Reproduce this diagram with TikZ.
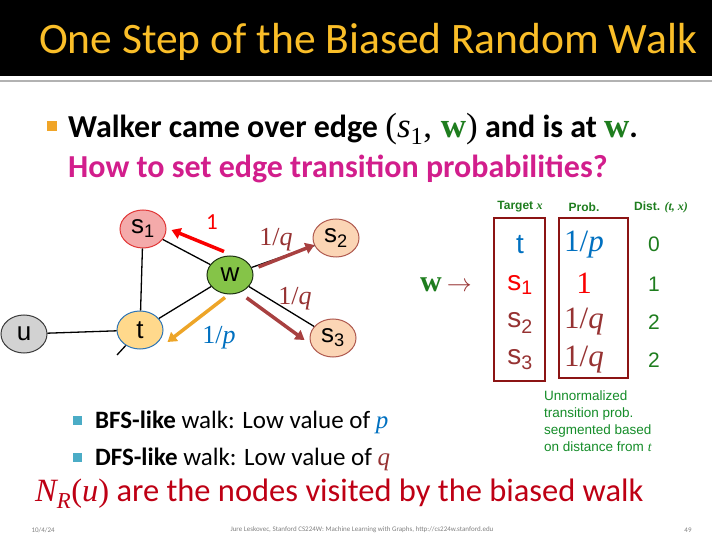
\documentclass[tikz,border=0pt]{standalone}
\usepackage{fontspec}
\setmainfont{Carlito}
\newfontfamily\arialfont{Liberation Sans}
\newfontfamily\mathserif{Liberation Serif}
\newcommand{\mvar}[1]{{\mathserif\itshape #1}}
\newcommand{\mbold}[1]{{\mathserif\bfseries #1}}
\usepackage{xcolor}
\usepackage{tikz}
\usetikzlibrary{positioning}
\usetikzlibrary{shapes.geometric}
\usetikzlibrary{arrows.meta}

\definecolor{titlegold}{RGB}{250,190,40}
\definecolor{sonefill}{RGB}{244,170,170}
\definecolor{soneline}{RGB}{225,55,55}
\definecolor{sfarfill}{RGB}{251,213,181}
\definecolor{sfarline}{RGB}{175,90,80}
\definecolor{wfill}{RGB}{133,196,72}
\definecolor{wline}{RGB}{30,50,20}
\definecolor{tfill}{RGB}{255,217,140}
\definecolor{tline}{RGB}{46,117,182}
\definecolor{ufill}{RGB}{210,210,210}
\definecolor{uline}{RGB}{60,60,60}
\definecolor{walkred}{RGB}{250,0,0}
\definecolor{walkbrown}{RGB}{168,64,64}
\definecolor{walkorange}{RGB}{237,165,40}
\definecolor{pblue}{RGB}{0,112,192}
\definecolor{qbrown}{RGB}{150,50,50}
\definecolor{boxred}{RGB}{140,20,20}
\definecolor{distgreen}{RGB}{30,125,30}
\definecolor{notegreen}{RGB}{20,140,40}
\definecolor{askmagenta}{RGB}{210,30,140}
\definecolor{nrred}{RGB}{190,0,20}
\definecolor{bulorange}{RGB}{240,165,40}
\definecolor{bulteal}{RGB}{75,172,198}

\begin{document}
\begin{tikzpicture}[x=1pt, y=-1pt,
        vertex/.style={ellipse, draw, line width=1pt, minimum width=46pt, minimum height=38pt, inner sep=0pt, font=\arialfont\fontsize{26}{26}\selectfont},
        edge/.style={line width=1.3pt, black},
        walk/.style={line width=3.5pt, -{Triangle[length=9pt,width=11pt]}},
        wlab/.style={font=\mathserif\fontsize{26}{26}\selectfont},
        cell/.style={font=\arialfont\fontsize{28}{30}\selectfont, inner sep=0pt},
        pcell/.style={font=\mathserif\fontsize{31}{32}\selectfont, inner sep=0pt},
        dcell/.style={font=\arialfont\fontsize{21}{24}\selectfont, text=distgreen, inner sep=0pt},
        head/.style={font=\arialfont\bfseries\fontsize{12}{14}\selectfont, text=distgreen, inner sep=0pt},
        bullet/.style={anchor=west, inner sep=0pt}
    ]
    \useasboundingbox (0,0) rectangle (712,534);

    % title bar
    \fill[black] (0,0) rectangle (712,76);
    \draw[gray!60, line width=1.5pt] (0,81) -- (712,81);
    \node[text=titlegold, font=\fontsize{43.5}{46}\selectfont] (title) at (368,42) {One Step of the Biased Random Walk};

    % bullet text
    \fill[bulorange] (47,121) rectangle (57,131);
    \node[bullet, font=\bfseries\fontsize{32}{34}\selectfont] (walker) at (68,129) {Walker came over edge {\mathserif\mdseries\fontsize{35}{36}\selectfont(\mvar{s}\textsubscript{1}, \textcolor{distgreen}{\mbold{w}})} and is at {\fontsize{35}{36}\selectfont\textcolor{distgreen}{\mbold{w}}}.};
    \node[bullet, text=askmagenta, font=\bfseries\fontsize{32}{34}\selectfont] (howto) at (68,169) {How to set edge transition probabilities?};

    % graph
    \node[vertex, fill=sonefill, draw=soneline] (s1) at (143,229) {s\textsubscript{1}};
    \node[vertex, fill=sfarfill, draw=sfarline] (s2) at (336,238) {s\textsubscript{2}};
    \node[vertex, fill=wfill, draw=wline] (w) at (230,275) {w};
    \node[vertex, fill=tfill, draw=tline] (t) at (140,330) {t};
    \node[vertex, fill=ufill, draw=uline] (u) at (24,334) {u};
    \node[vertex, fill=sfarfill, draw=sfarline] (s3) at (333,338) {s\textsubscript{3}};
    \coordinate (tcut) at (117,355);

    \draw[edge] (s1) -- (w);
    \draw[edge] (s1) -- (t);
    \draw[edge] (w) -- (t);
    \draw[edge] (u) -- (t);
    \draw[edge] (w) -- (s2);
    \draw[edge] (w) -- (s3);
    \draw[edge] (t) -- (tcut);

    \draw[walk, walkred] ([xshift=-6pt,yshift=4pt]w.north) to ([xshift=5pt,yshift=-1pt]s1.east);
    \draw[walk, walkbrown] ([xshift=5pt,yshift=8pt]w.east) to ([xshift=2pt,yshift=-7pt]s2.west);
    \draw[walk, walkbrown] ([xshift=0pt,yshift=-9pt]w.south east) to ([xshift=-5pt,yshift=-2pt]s3.west);
    \draw[walk, walkorange] ([xshift=-5pt,yshift=-3pt]w.south) to ([xshift=4pt,yshift=-12pt]t.east);

    \node[wlab, text=walkred, font=\fontsize{23}{23}\selectfont] (lone) at (212,222) {1};
    \node[wlab, text=qbrown] (lq1) at (276,240) {1/\mvar{q}};
    \node[wlab, text=qbrown] (lq2) at (295,299) {1/\mvar{q}};
    \node[wlab, text=pblue] (lp) at (219,338) {1/\mvar{p}};

    % table
    \node[font=\fontsize{30}{30}\selectfont] (wto) at (446,285) {\textcolor{distgreen}{\mbold{w}}\,\textcolor{qbrown}{$\rightarrow$}};
    \draw[boxred, line width=2pt] (494,218) rectangle (545,381);
    \draw[boxred, line width=2pt] (559,218) rectangle (628,378);

    \node[head] (htarget) at (520,207) {Target {\mathserif\bfseries\itshape x}};
    \node[head] (hprob) at (584,207) {Prob.};
    \node[head] (hdist) at (661,207) {Dist. {\mathserif\bfseries\itshape (t, x)}};

    \node[cell, text=pblue] (tgt1) at (520,245) {t};
    \node[cell, text=walkred] (tgt2) at (520,285) {s\textsubscript{1}};
    \node[cell, text=qbrown] (tgt3) at (520,323) {s\textsubscript{2}};
    \node[cell, text=qbrown] (tgt4) at (520,360) {s\textsubscript{3}};

    \node[pcell, text=pblue] (prob1) at (584,245) {1/\mvar{p}};
    \node[pcell, text=walkred] (prob2) at (584,283) {1};
    \node[pcell, text=qbrown] (prob3) at (584,322) {1/\mvar{q}};
    \node[pcell, text=qbrown] (prob4) at (584,360) {1/\mvar{q}};

    \node[dcell] (dist1) at (654,244) {0};
    \node[dcell] (dist2) at (654,284) {1};
    \node[dcell] (dist3) at (654,322) {2};
    \node[dcell] (dist4) at (654,360) {2};

    \node[anchor=north west, inner sep=0pt, align=left, text=notegreen, font=\arialfont\fontsize{13.5}{16.7}\selectfont] (note) at (544,391) {Unnormalized\\transition prob.\\segmented based\\on distance from \mvar{t}};

    % lower bullets
    \fill[bulteal] (73,416) rectangle (82,425);
    \node[bullet, font=\fontsize{25}{28}\selectfont] (bfs) at (95,422) {\textbf{BFS-like} walk: Low value of \textcolor{pblue}{\mvar{p}}};
    \fill[bulteal] (73,453) rectangle (82,462);
    \node[bullet, font=\fontsize{25}{28}\selectfont] (dfs) at (95,459) {\textbf{DFS-like} walk: Low value of \textcolor{qbrown}{\mvar{q}}};
    \node[bullet, text=nrred, font=\fontsize{32.5}{36}\selectfont] (nr) at (35,494) {\mvar{N}\textsubscript{\mvar{R}}{\mathserif(}\mvar{u}{\mathserif)} are the nodes visited by the biased walk};

    % footer
    \node[text=gray, font=\fontsize{7}{8}\selectfont, anchor=west] (fdate) at (28,530) {10/4/24};
    \node[text=gray, font=\fontsize{7}{8}\selectfont] (fcite) at (362,530) {Jure Leskovec, Stanford CS224W: Machine Learning with Graphs, http://cs224w.stanford.edu};
    \node[text=gray, font=\fontsize{7}{8}\selectfont] (fpage) at (688,530) {49};
\end{tikzpicture}
\end{document}
